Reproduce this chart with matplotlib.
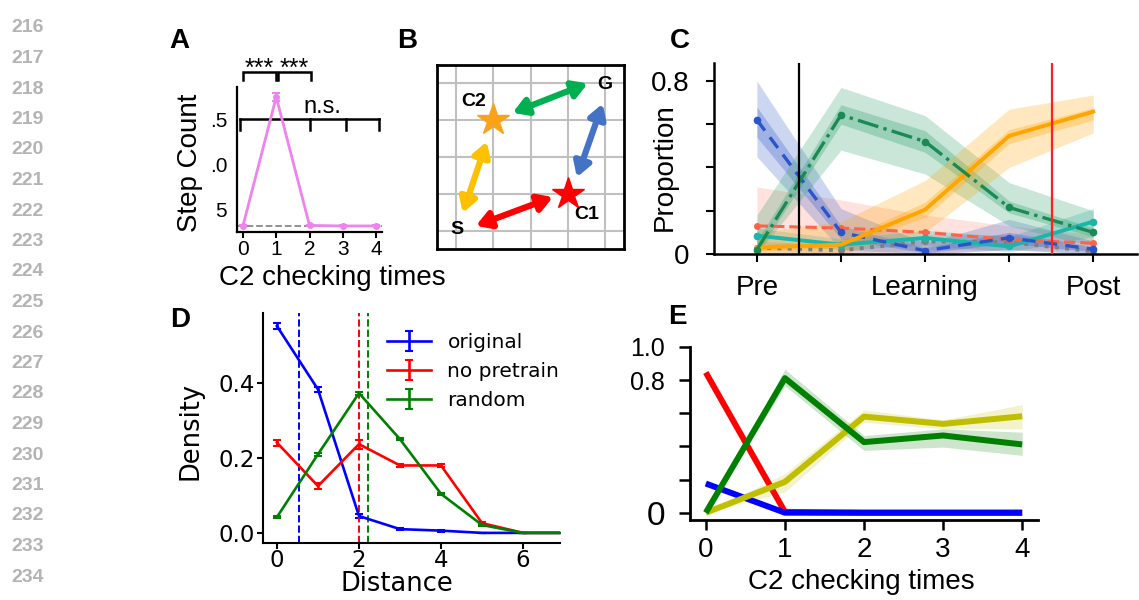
import matplotlib
matplotlib.use('Agg')
import matplotlib.pyplot as plt
from matplotlib.patches import FancyArrowPatch

plt.rcParams['font.family'] = ['Liberation Sans', 'DejaVu Sans']

W, H = 1139, 600
fig = plt.figure(figsize=(W / 100, H / 100), dpi=100)


def rect(l, t, r, b):
    return [l / W, 1 - b / H, (r - l) / W, (b - t) / H]


# ---------------- data ----------------
line_numbers = list(range(216, 235))

# Panel A
a_x = [0, 1, 2, 3, 4]
a_steps = [6.56, 13.79, 6.58, 6.55, 6.55]
a_err = [0.04, 0.25, 0.04, 0.03, 0.03]
a_baseline = 6.55
a_yticks = [7.5, 10.0, 12.5]
a_yticklabels = ['5', '.0', '.5']

# Panel B (schematic)
b_grid = [0, 1, 2, 3, 4]
b_labels = ['S', 'C2', 'C1', 'G']
b_label_xy = [(0.03, 0.03), (0.47, 3.5), (3.5, 0.43), (3.98, 3.96)]
b_stars = [(1, 3, '#f9a31b'), (3, 1, '#ff0000')]
b_arrows = [((0.54, 0.13), (2.60, 0.91), '#ff0000'),
            ((0.19, 0.48), (0.83, 2.42), '#ffc000'),
            ((1.52, 3.20), (3.53, 4.00), '#00b050'),
            ((3.24, 1.45), (3.93, 3.45), '#4472c4')]

# Panel C
c_x = [0, 1, 2, 3, 4]
c_xticklabels = ['Pre', '', 'Learning', '', 'Post']
c_blue = [0.62, 0.10, 0.015, 0.075, 0.022]
c_blue_lo = [0.45, 0.02, 0.0, 0.02, 0.0]
c_blue_hi = [0.80, 0.21, 0.05, 0.16, 0.06]
c_blue_lo_in = [0.54, 0.07, 0.005, 0.05, 0.01]
c_blue_hi_in = [0.68, 0.13, 0.03, 0.10, 0.035]
c_green = [0.02, 0.643, 0.52, 0.215, 0.10]
c_green_lo = [0.0, 0.48, 0.37, 0.13, 0.035]
c_green_hi = [0.18, 0.77, 0.64, 0.33, 0.20]
c_green_lo_in = [0.0, 0.60, 0.47, 0.19, 0.08]
c_green_hi_in = [0.06, 0.69, 0.57, 0.245, 0.12]
c_orange = [0.03, 0.043, 0.205, 0.546, 0.658]
c_orange_lo = [0.0, 0.0, 0.10, 0.40, 0.56]
c_orange_hi = [0.10, 0.15, 0.34, 0.67, 0.735]
c_orange_lo_in = [0.015, 0.03, 0.17, 0.51, 0.62]
c_orange_hi_in = [0.045, 0.06, 0.24, 0.575, 0.675]
c_tomato = [0.13, 0.12, 0.10, 0.066, 0.05]
c_tomato_lo = [0.02, 0.0, 0.0, 0.02, 0.02]
c_tomato_hi = [0.31, 0.25, 0.18, 0.13, 0.09]
c_teal = [0.085, 0.043, 0.074, 0.035, 0.15]
c_teal_lo = [0.05, 0.02, 0.04, 0.01, 0.08]
c_teal_hi = [0.12, 0.07, 0.11, 0.08, 0.21]
c_gray = [0.03, 0.017, 0.058, 0.055, 0.012]
c_gray_lo = [0.0, 0.0, 0.02, 0.02, 0.0]
c_gray_hi = [0.06, 0.04, 0.09, 0.09, 0.03]
c_vlines = [(0.5, 'black'), (3.51, '#ff2020')]

# Panel D
d_x = [0, 1, 2, 3, 4, 5, 6, 7]
d_original = [0.552, 0.383, 0.045, 0.010, 0.006, 0.0, 0.0, 0.0]
d_original_err = [0.008, 0.006, 0.005, 0.003, 0.003, 0.001, 0.0, 0.0]
d_nopretrain = [0.241, 0.125, 0.237, 0.180, 0.180, 0.026, 0.0, 0.0]
d_nopretrain_err = [0.008, 0.007, 0.012, 0.004, 0.005, 0.004, 0.0, 0.0]
d_random = [0.042, 0.210, 0.373, 0.250, 0.104, 0.021, 0.0, 0.0]
d_random_err = [0.003, 0.004, 0.004, 0.003, 0.003, 0.002, 0.0, 0.0]
d_means = [0.545, 2.01, 2.23]

# Panel E
e_x = [0, 1, 2, 3, 4]
e_red = [0.846, 0.005, 0.0, 0.0, 0.0]
e_blue = [0.176, 0.0, 0.0, 0.0, 0.0]
e_green = [0.0, 0.812, 0.426, 0.466, 0.412]
e_green_lo = [0.0, 0.766, 0.376, 0.396, 0.346]
e_green_hi = [0.0, 0.866, 0.466, 0.506, 0.486]
e_olive = [0.0, 0.186, 0.58, 0.536, 0.582]
e_olive_lo = [0.0, 0.126, 0.546, 0.506, 0.506]
e_olive_hi = [0.0, 0.236, 0.62, 0.56, 0.652]

# ---------------- line numbers ----------------
for i, n in enumerate(line_numbers):
    y = 28 + i * 30.5
    fig.text(44 / W, 1 - y / H, str(n), ha='right', va='center', fontsize=14,
             fontweight='bold', color='#b4b4b4')

# panel letters
for lab, (px, py) in zip(['A', 'B', 'C', 'D', 'E'],
                         [(179, 41), (407, 41), (680, 41), (180, 320), (677, 317)]):
    fig.text(px / W, 1 - py / H, lab, ha='center', va='center', fontsize=20,
             fontweight='bold')

# ---------------- Panel A ----------------
axA = fig.add_axes(rect(237, 87, 382, 232))
axA.set_xlim(-0.18, 4.18)
axA.set_ylim(6.21, 14.35)
axA.axhline(a_baseline, color='#888888', ls='--', lw=1.3, zorder=1)
axA.errorbar(a_x, a_steps, yerr=a_err, color='#ee82ee', lw=2, marker='o', ms=4,
             capsize=3, capthick=1.5, zorder=3)
for s in ['top', 'right']:
    axA.spines[s].set_visible(False)
for s in ['left', 'bottom']:
    axA.spines[s].set_linewidth(1.6)
axA.set_xticks(a_x)
axA.set_xticklabels([str(v) for v in a_x], fontsize=15)
axA.set_yticks(a_yticks)
axA.set_yticklabels(a_yticklabels, fontsize=15)
axA.tick_params(axis='x', length=4, width=1.5, pad=2)
axA.tick_params(axis='y', length=0, pad=7)
axA.set_xlabel('C2 checking times', fontsize=20, va='center')
axA.xaxis.set_label_coords(0.655, -0.317)
axA.set_ylabel('Step Count', fontsize=20, va='center')
axA.yaxis.set_label_coords(-0.324, 0.476)
# significance brackets
bk = dict(color='black', lw=1.8, clip_on=False, solid_joinstyle='miter')
axA.plot([0, 0, 1, 1], [14.75, 15.2, 15.2, 14.75], **bk)
axA.plot([1.05, 1.05, 2.05, 2.05], [14.75, 15.2, 15.2, 14.75], **bk)
axA.text(0.5, 15.0, '***', ha='center', va='baseline', fontsize=18)
axA.text(1.55, 15.0, '***', ha='center', va='baseline', fontsize=18)
axA.plot([-0.09, 4.1], [12.56, 12.56], **bk)
for lx in [-0.09, 2.0, 3.1, 4.1]:
    axA.plot([lx, lx], [12.56, 11.94], **bk)
axA.text(2.4, 12.89, 'n.s.', ha='center', va='baseline', fontsize=17)

# ---------------- Panel B ----------------
axB = fig.add_axes(rect(437, 65, 624, 249))
axB.set_xlim(-0.5, 4.5)
axB.set_ylim(-0.5, 4.5)
axB.set_xticks([])
axB.set_yticks([])
for v in b_grid:
    axB.axvline(v, color='#c0c0c0', lw=1.5, zorder=0)
    axB.axhline(v, color='#c0c0c0', lw=1.5, zorder=0)
for s in axB.spines.values():
    s.set_linewidth(2)
for (p0, p1, col) in b_arrows:
    arr = FancyArrowPatch(p0, p1, arrowstyle='<|-|>,head_length=0.7,head_width=0.42',
                          mutation_scale=12, lw=4.5, color=col, shrinkA=0, shrinkB=0,
                          zorder=3)
    axB.add_patch(arr)
for (sx, sy, col) in b_stars:
    axB.plot([sx], [sy], marker='*', ms=24, color=col, mec=col, zorder=4)
for lab, (lx, ly) in zip(b_labels, b_label_xy):
    axB.text(lx, ly, lab, ha='center', va='center', fontsize=14, fontweight='bold',
             zorder=5)

# ---------------- Panel C ----------------
axC = fig.add_axes(rect(714, 63, 1137, 254))
axC.set_xlim(-0.51, 4.52)
axC.set_ylim(0, 0.883)
bands = [
    (c_tomato_lo, c_tomato_hi, None, None, '#ff8c7a'),
    (c_gray_lo, c_gray_hi, None, None, '#a0a0a0'),
    (c_teal_lo, c_teal_hi, None, None, '#20b2aa'),
    (c_blue_lo, c_blue_hi, c_blue_lo_in, c_blue_hi_in, '#3a5fc8'),
    (c_green_lo, c_green_hi, c_green_lo_in, c_green_hi_in, '#2e9e6a'),
    (c_orange_lo, c_orange_hi, c_orange_lo_in, c_orange_hi_in, '#ffa500'),
]
for lo, hi, loi, hii, col in bands:
    axC.fill_between(c_x, lo, hi, color=col, alpha=0.25, lw=0)
    if loi is not None:
        axC.fill_between(c_x, loi, hii, color=col, alpha=0.3, lw=0)
axC.plot(c_x, c_gray, color='#7f7f7f', ls=':', lw=2.8, marker='o', ms=4)
axC.plot(c_x, c_tomato, color='#ff6347', ls='--', lw=2.2, marker='o', ms=4)
axC.plot(c_x, c_teal, color='#1cb5ab', ls='-', lw=2.8, marker='o', ms=4.5)
axC.plot(c_x, c_blue, color='#2a55c8', ls=(0, (4, 2.5)), lw=2.4, marker='o', ms=4.5)
axC.plot(c_x, c_orange, color='#ffa500', ls='-', lw=2.8)
axC.plot(c_x, c_green, color='#1a8a55', ls='-.', lw=2.4, marker='o', ms=4.5)
for vx, vc in c_vlines:
    axC.axvline(vx, color=vc, lw=1.6, zorder=6)
for s in ['top', 'right']:
    axC.spines[s].set_visible(False)
for s in ['left', 'bottom']:
    axC.spines[s].set_linewidth(1.8)
axC.set_xticks(c_x)
axC.set_xticklabels(c_xticklabels, fontsize=20)
axC.set_yticks([0, 0.2, 0.4, 0.6, 0.8])
axC.set_yticklabels(['0', '', '', '', '0.8'], fontsize=20)
axC.tick_params(axis='x', length=6, width=1.5, pad=9)
axC.tick_params(axis='y', length=6, width=1.5, pad=12)
axC.set_ylabel('Proportion', fontsize=20, va='center')
axC.yaxis.set_label_coords(-0.116, 0.455)

# ---------------- Panel D ----------------
dfont = 'DejaVu Sans'
axD = fig.add_axes(rect(263, 313, 560, 543))
axD.set_xlim(-0.34, 6.9)
axD.set_ylim(-0.027, 0.587)
for vals, errs, col, lab in [(d_original, d_original_err, '#0000ff', 'original'),
                             (d_nopretrain, d_nopretrain_err, '#ff0000', 'no pretrain'),
                             (d_random, d_random_err, '#008000', 'random')]:
    axD.errorbar(d_x, vals, yerr=errs, color=col, lw=1.9, capsize=3, capthick=1.5,
                 label=lab)
for mx, col in zip(d_means, ['#0000ff', '#ff0000', '#008000']):
    axD.axvline(mx, color=col, ls='--', lw=1.4)
for s in ['top', 'right']:
    axD.spines[s].set_visible(False)
for s in ['left', 'bottom']:
    axD.spines[s].set_linewidth(1.5)
axD.set_xticks([0, 2, 4, 6])
axD.set_xticklabels(['0', '2', '4', '6'], fontsize=16.5, family=dfont)
axD.set_yticks([0.0, 0.2, 0.4])
axD.set_yticklabels(['0.0', '0.2', '0.4'], fontsize=16.5, family=dfont)
axD.tick_params(axis='x', length=4, width=1.5, pad=0.5)
axD.tick_params(axis='y', length=4, width=1.5, pad=2)
axD.set_xlabel('Distance', fontsize=18.5, family=dfont, va='center')
axD.xaxis.set_label_coords(0.451, -0.178)
axD.set_ylabel('Density', fontsize=18.5, family=dfont, va='center')
axD.yaxis.set_label_coords(-0.245, 0.487)
axD.legend(loc='upper right', frameon=False, prop={'family': dfont, 'size': 14.5},
           handlelength=2.2, handletextpad=0.8, borderaxespad=0.3,
           bbox_to_anchor=(1.045, 0.975))

# ---------------- Panel E ----------------
axE = fig.add_axes(rect(690, 347, 1038, 520))
axE.set_xlim(-0.2, 4.2)
axE.set_ylim(-0.044, 1.0)
axE.fill_between(e_x, e_green_lo, e_green_hi, color='#008000', alpha=0.2, lw=0)
axE.fill_between(e_x, e_olive_lo, e_olive_hi, color='#bfbf00', alpha=0.2, lw=0)
axE.plot(e_x, e_red, color='#ff0000', lw=4.3, solid_capstyle='butt')
axE.plot(e_x, e_blue, color='#0000ff', lw=4.3, solid_capstyle='butt')
axE.plot(e_x, e_olive, color='#bfbf00', lw=4.3, solid_capstyle='butt')
axE.plot(e_x, e_green, color='#008000', lw=4.3, solid_capstyle='butt')
for s in ['top', 'right']:
    axE.spines[s].set_visible(False)
for s in ['left', 'bottom']:
    axE.spines[s].set_linewidth(2)
axE.set_xticks(e_x)
axE.set_xticklabels([str(v) for v in e_x], fontsize=20)
axE.set_yticks([0, 0.2, 0.4, 0.6, 0.8, 1.0])
ylabs = axE.set_yticklabels(['0', '', '', '', '0.8', '1.0'], fontsize=18)
ylabs[0].set_fontsize(24)
axE.tick_params(axis='x', length=7, width=1.8, pad=5)
axE.tick_params(axis='y', length=8, width=1.8, pad=10)
axE.set_xlabel('C2 checking times', fontsize=20, va='center')
axE.xaxis.set_label_coords(0.491, -0.358)

fig.savefig('out.png', dpi=100)
